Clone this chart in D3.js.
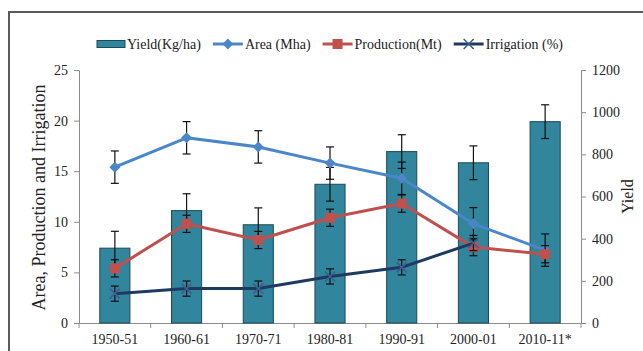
<!DOCTYPE html>
<html>
<head>
<meta charset="utf-8">
<script src="https://cdn.jsdelivr.net/npm/d3@7/dist/d3.min.js"></script>
<style>
  body { margin: 0; background: #fff; }
  .axis path, .axis line { stroke: #8c8c8c; }
</style>
</head>
<body>
<div id="chart"></div>
<script>
// data
var categories = ["1950-51", "1960-61", "1970-71", "1980-81", "1990-91", "2000-01", "2010-11*"];
var yieldVals = [355, 533, 466, 658, 813, 760, 955];
var areaVals = [15.4, 18.3, 17.4, 15.8, 14.3, 9.8, 7.2];
var productionVals = [5.4, 9.8, 8.2, 10.4, 11.8, 7.5, 6.8];
var irrigationVals = [2.9, 3.4, 3.4, 4.6, 5.5, 7.9, null];
var yieldErr = [80, 80, 80, 80, 80, 80, 80];
var areaErr = [1.6, 1.6, 1.6, 1.6, 1.6, 1.6, 1.6];
var productionErr = [0.85, 0.85, 0.85, 0.85, 0.85, 0.85, 0.85];
var irrigationErr = [0.75, 0.75, 0.75, 0.75, 0.75, 0.75, 0.75];
var leftTicks = [0, 5, 10, 15, 20, 25];
var rightTicks = [0, 200, 400, 600, 800, 1000, 1200];

var FONT = "'Liberation Serif', 'Times New Roman', serif";
var width = 643, height = 351;
var plot = { left: 79, right: 581, top: 70, bottom: 323 };

var svg = d3.select("#chart").append("svg")
	.attr("width", width)
	.attr("height", height)
	.style("font-family", FONT);

// outer frame (cropped at right/bottom in the source)
svg.append("rect")
	.attr("x", 9).attr("y", 12)
	.attr("width", 700).attr("height", 400)
	.attr("fill", "none")
	.attr("stroke", "#5a5a5a")
	.attr("stroke-width", 2);

var x = d3.scaleBand().domain(categories)
	.range([plot.left, plot.right])
	.paddingInner(0.58).paddingOuter(0.29);
var yL = d3.scaleLinear().domain([0, 25]).range([plot.bottom, plot.top]);
var yR = d3.scaleLinear().domain([0, 1200]).range([plot.bottom, plot.top]);
var cx = function (c) { return x(c) + x.bandwidth() / 2; };

function styleTicks(g) {
	g.attr("font-family", FONT);
	g.selectAll("text").style("font-size", "14px").style("font-family", FONT).attr("fill", "#222");
}

// left axis
var gl = svg.append("g").attr("class", "axis")
	.attr("transform", "translate(" + plot.left + ",0)")
	.call(d3.axisLeft(yL).tickValues(leftTicks).tickSizeInner(5).tickSizeOuter(0).tickPadding(6));
styleTicks(gl);

// right axis
var gr = svg.append("g").attr("class", "axis")
	.attr("transform", "translate(" + plot.right + ",0)")
	.call(d3.axisRight(yR).tickValues(rightTicks).tickFormat(d3.format("d")).tickSizeInner(5).tickSizeOuter(0).tickPadding(6));
styleTicks(gr);

// bottom axis: labels at centres, ticks at boundaries
var gb = svg.append("g").attr("class", "axis")
	.attr("transform", "translate(0," + plot.bottom + ")")
	.call(d3.axisBottom(x).tickSize(0).tickPadding(11));
styleTicks(gb);
svg.append("g").attr("class", "axis")
	.selectAll("line")
	.data(d3.range(categories.length + 1))
	.enter().append("line")
	.attr("x1", function (i) { return plot.left + i * x.step(); })
	.attr("x2", function (i) { return plot.left + i * x.step(); })
	.attr("y1", plot.bottom)
	.attr("y2", plot.bottom + 5);

// axis titles
svg.append("text")
	.attr("transform", "translate(45," + ((plot.top + plot.bottom) / 2 + 1) + ") rotate(-90)")
	.attr("text-anchor", "middle")
	.attr("fill", "#222")
	.style("font-size", "18px")
	.text("Area, Production and Irrigation");
svg.append("text")
	.attr("transform", "translate(633," + ((plot.top + plot.bottom) / 2) + ") rotate(-90)")
	.attr("text-anchor", "middle")
	.attr("fill", "#222")
	.style("font-size", "16px")
	.text("Yield");

// bars
svg.selectAll(".bar")
	.data(categories)
	.enter().append("rect")
	.attr("class", "bar")
	.attr("x", function (c) { return x(c); })
	.attr("y", function (c, i) { return yR(yieldVals[i]); })
	.attr("width", x.bandwidth())
	.attr("height", function (c, i) { return plot.bottom - yR(yieldVals[i]); })
	.attr("fill", "#31859c")
	.attr("stroke", "#1e4a58")
	.attr("stroke-width", 1);

function errorBars(vals, errs, scale) {
	var pts = categories.map(function (c, i) {
		return { x: cx(c), v: vals[i], e: errs[i] };
	}).filter(function (d) { return d.v != null; });
	var g = svg.append("g").attr("stroke", "#111").attr("stroke-width", 1.2);
	pts.forEach(function (d) {
		var top = scale(d.v + d.e), bot = scale(d.v - d.e);
		g.append("line").attr("x1", d.x).attr("x2", d.x).attr("y1", top).attr("y2", bot);
		g.append("line").attr("x1", d.x - 4).attr("x2", d.x + 4).attr("y1", top).attr("y2", top);
		g.append("line").attr("x1", d.x - 4).attr("x2", d.x + 4).attr("y1", bot).attr("y2", bot);
	});
}

errorBars(yieldVals, yieldErr, yR);

function lineSeries(vals, colour) {
	var pts = categories.map(function (c, i) { return [cx(c), vals[i]]; })
		.filter(function (d) { return d[1] != null; });
	svg.append("path")
		.datum(pts)
		.attr("fill", "none")
		.attr("stroke", colour)
		.attr("stroke-width", 3)
		.attr("stroke-linejoin", "round")
		.attr("d", d3.line().x(function (d) { return d[0]; }).y(function (d) { return yL(d[1]); }));
	return pts;
}

function drawMarker(g, type, px, py, colour) {
	if (type == "diamond") {
		g.append("path")
			.attr("d", "M" + px + "," + (py - 5.5) + "L" + (px + 5.5) + "," + py + "L" + px + "," + (py + 5.5) + "L" + (px - 5.5) + "," + py + "Z")
			.attr("fill", colour);
	} else if (type == "square") {
		g.append("rect")
			.attr("x", px - 5).attr("y", py - 5)
			.attr("width", 10).attr("height", 10)
			.attr("fill", colour);
	} else {
		g.append("path")
			.attr("d", "M" + (px - 5) + "," + (py - 5) + "L" + (px + 5) + "," + (py + 5) + "M" + (px - 5) + "," + (py + 5) + "L" + (px + 5) + "," + (py - 5))
			.attr("stroke", colour)
			.attr("stroke-width", 1.6)
			.attr("fill", "none");
	}
}

var seriesList = [
	{ vals: areaVals, errs: areaErr, colour: "#4a86c8", marker: "diamond" },
	{ vals: productionVals, errs: productionErr, colour: "#c0504d", marker: "square" },
	{ vals: irrigationVals, errs: irrigationErr, colour: "#1f3a60", marker: "x" }
];

seriesList.forEach(function (s) {
	var pts = lineSeries(s.vals, s.colour);
	errorBars(s.vals, s.errs, yL);
	var g = svg.append("g");
	pts.forEach(function (d) {
		drawMarker(g, s.marker, d[0], yL(d[1]), s.marker == "x" ? "#3b5f8f" : s.colour);
	});
});

// legend
var legendItems = [
	{ label: "Yield(Kg/ha)", kind: "bar" },
	{ label: "Area (Mha)", kind: "diamond", colour: "#4a86c8" },
	{ label: "Production(Mt)", kind: "square", colour: "#c0504d" },
	{ label: "Irrigation (%)", kind: "x", colour: "#1f3a60" }
];
var lx = 97, ly = 44;
var lg = svg.append("g");
legendItems.forEach(function (it) {
	if (it.kind == "bar") {
		lg.append("rect").attr("x", lx).attr("y", ly - 3.5).attr("width", 28).attr("height", 7)
			.attr("fill", "#31859c").attr("stroke", "#1e4a58");
	} else {
		lg.append("line").attr("x1", lx).attr("x2", lx + 30).attr("y1", ly).attr("y2", ly)
			.attr("stroke", it.colour).attr("stroke-width", 3);
		drawMarker(lg, it.kind, lx + 15, ly, it.kind == "x" ? "#3b5f8f" : it.colour);
	}
	var w = it.kind == "bar" ? 28 : 30;
	var t = lg.append("text").attr("x", lx + w + 2).attr("y", ly + 5)
		.attr("fill", "#222")
		.style("font-size", "14px").text(it.label);
	lx += w + 2 + t.node().getComputedTextLength() + 12;
});
</script>
</body>
</html>
